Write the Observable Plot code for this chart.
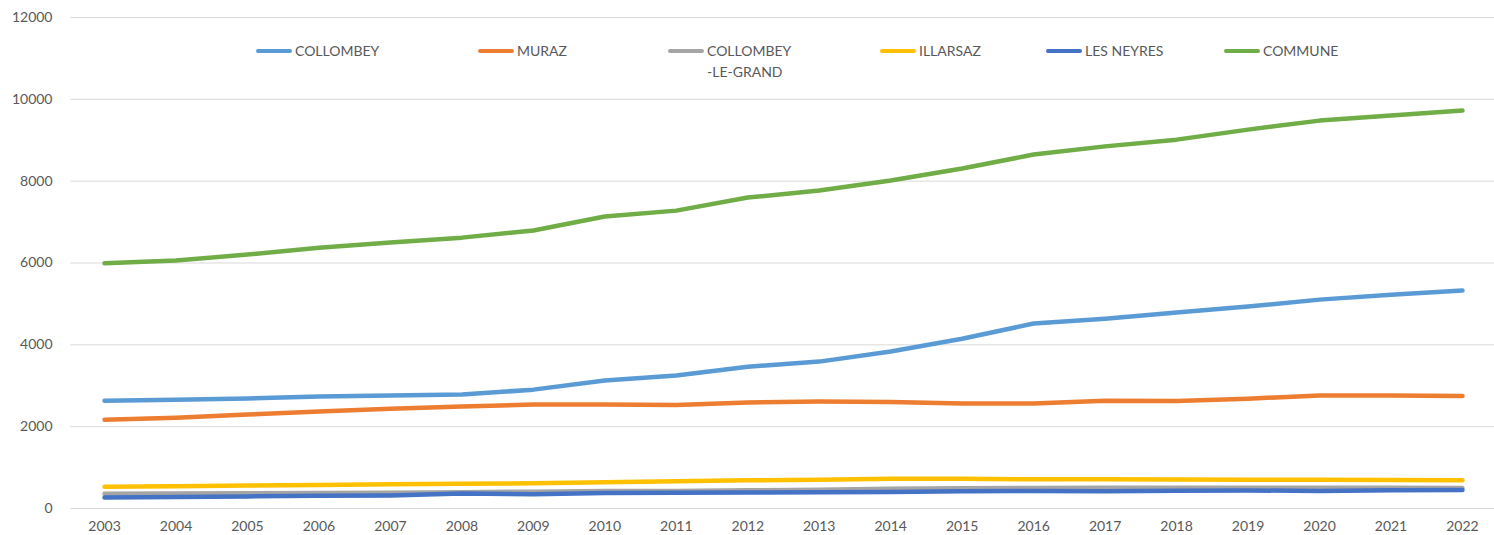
<!DOCTYPE html>
<html><head><meta charset="utf-8">
<script src="https://cdn.jsdelivr.net/npm/d3@7"></script>
<script src="https://cdn.jsdelivr.net/npm/@observablehq/plot@0.6"></script>
<style>
body{margin:0;background:#fff;font-family:Lato,"Open Sans",sans-serif}
#wrap{position:relative;width:1494px;height:535px;overflow:hidden}
#legend{position:absolute;top:42px;left:256px;display:grid;grid-template-columns:222px 190px 212px 166px 178px 200px;font-size:14px;color:#595959}
.item{display:flex;align-items:flex-start}
.sw{display:inline-block;width:36px;height:4px;border-radius:2px;margin-top:7px;margin-right:3px;flex:none}
.lbl{line-height:21px;margin-top:-2px}
svg{display:block}
</style></head><body>
<div id="wrap"><div id="legend"></div></div>
<script>
const years = [2003,2004,2005,2006,2007,2008,2009,2010,2011,2012,2013,2014,2015,2016,2017,2018,2019,2020,2021,2022];
const collombey = [2635,2660,2690,2735,2760,2785,2905,3130,3250,3465,3590,3835,4150,4520,4640,4790,4935,5105,5225,5325];
const muraz = [2170,2220,2295,2370,2440,2490,2540,2540,2530,2590,2615,2605,2565,2565,2635,2625,2685,2760,2760,2750];
const collombeyLeGrand = [360,365,370,380,385,400,410,425,430,445,460,480,495,500,505,505,505,505,505,500];
const illarsaz = [530,545,560,575,595,605,615,640,665,690,705,725,725,715,715,710,705,700,695,690];
const lesNeyres = [270,280,295,310,320,365,350,380,385,390,400,405,420,430,420,435,440,430,445,450];
const commune = [5995,6060,6205,6375,6500,6620,6795,7135,7280,7600,7770,8015,8310,8650,8850,9015,9260,9480,9605,9725];
const seriesNames = ["COLLOMBEY","MURAZ","COLLOMBEY-LE-GRAND","ILLARSAZ","LES NEYRES","COMMUNE"];
const seriesLabels = ["COLLOMBEY","MURAZ","COLLOMBEY\n-LE-GRAND","ILLARSAZ","LES NEYRES","COMMUNE"];
const seriesColors = ["#5B9BD5","#ED7D31","#A5A5A5","#FFC000","#4472C4","#70AD47"];
const yTicks = [0,2000,4000,6000,8000,10000,12000];

const seriesValues = [collombey, muraz, collombeyLeGrand, illarsaz, lesNeyres, commune];
const rows = [];
seriesNames.forEach((name, i) => years.forEach((yr, j) => rows.push({series: name, year: yr, value: seriesValues[i][j]})));

const chart = Plot.plot({
  width: 1494, height: 535,
  marginLeft: 68, marginRight: 0, marginTop: 17, marginBottom: 27,
  style: {fontFamily: "Lato, 'Open Sans', sans-serif", fontSize: "14px", color: "#595959", background: "#fff"},
  x: {type: "linear", domain: [2002.5, 2022.5], range: [68.3, 1497.7], ticks: years, tickFormat: d => String(d), label: null, tickSize: 0, tickPadding: 13},
  y: {domain: [0, 12000], ticks: yTicks, tickFormat: d => String(d), label: null, tickSize: 0, tickPadding: 16},
  color: {domain: seriesNames, range: seriesColors},
  marks: [
    Plot.ruleY(yTicks, {stroke: "#d9d9d9", strokeWidth: 1, x1: 2002.53, x2: 2022.5}),
    Plot.line(rows, {x: "year", y: "value", z: "series", stroke: "series", strokeWidth: 4.5, strokeLinecap: "round", strokeLinejoin: "round"})
  ]
});
document.getElementById("wrap").prepend(chart);

const legend = document.getElementById("legend");
seriesNames.forEach((n, i) => {
  const it = document.createElement("div"); it.className = "item";
  const sw = document.createElement("span"); sw.className = "sw"; sw.style.background = seriesColors[i];
  const lb = document.createElement("span"); lb.className = "lbl"; lb.style.whiteSpace = "pre"; lb.textContent = seriesLabels[i];
  it.append(sw, lb); legend.append(it);
});
</script>
</body></html>
